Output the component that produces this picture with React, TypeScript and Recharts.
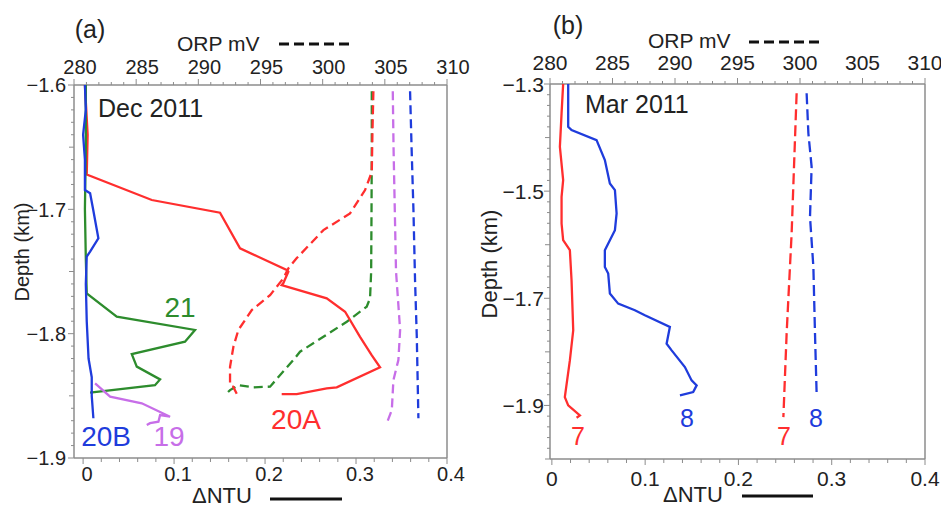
import React from 'react';
import { ScatterChart, Scatter, XAxis, YAxis, ReferenceLine, ReferenceDot } from 'recharts';

const FONT = '"Liberation Sans", Arial, sans-serif';
const INK = '#222';
const AXIS = '#8c8c8c';
const RED = '#ff2e2e';
const GREEN = '#2d8c2d';
const BLUE = '#1f3cdc';
const PURPLE = '#c76ee8';

// ---- Panel (a), Dec 2011 ----
// turbidity (bottom axis, ΔNTU)
const depth20A = [-1.6, -1.64, -1.672, -1.6925, -1.7027, -1.7314, -1.7488, -1.7502, -1.7595, -1.761, -1.7716, -1.7824, -1.8025, -1.8172, -1.8271, -1.8432, -1.844, -1.8486, -1.8486];
const ntu20A = [0.002, 0.005, 0.004, 0.0755, 0.1505, 0.1725, 0.2238, 0.2256, 0.22, 0.2183, 0.2678, 0.288, 0.3044, 0.3172, 0.3264, 0.2788, 0.2678, 0.2348, 0.2183];
const depth21 = [-1.6, -1.65, -1.7, -1.74, -1.7676, -1.7863, -1.797, -1.8064, -1.8164, -1.8265, -1.8368, -1.8414, -1.8475];
const ntu21 = [0.003, 0.003, 0.002, 0.003, 0.004, 0.037, 0.123, 0.112, 0.0535, 0.059, 0.0846, 0.079, 0.0077];
const depth20B = [-1.6, -1.62, -1.64, -1.66, -1.6845, -1.687, -1.7, -1.7233, -1.734, -1.738, -1.76, -1.79, -1.82, -1.835, -1.85, -1.868];
const ntu20B = [0.002, 0.003, 0.0, 0.002, 0.002, 0.0077, 0.011, 0.0168, 0.0077, 0.004, 0.003, 0.004, 0.006, 0.0095, 0.0095, 0.0113];
const depth19 = [-1.84, -1.8507, -1.856, -1.8668, -1.8655, -1.8708, -1.872, -1.8735];
const ntu19 = [0.0132, 0.0297, 0.0645, 0.0956, 0.0846, 0.0828, 0.0736, 0.07];
// redox potential (top axis, mV)
const depthOrp20A = [-1.605, -1.64, -1.67, -1.6845, -1.7033, -1.7167, -1.7394, -1.7475, -1.7555, -1.769, -1.781, -1.797, -1.8105, -1.8266, -1.8414, -1.8426, -1.8486];
const orp20A = [304.08, 304.0, 303.95, 303.41, 302.2, 300.06, 297.9, 297.24, 296.84, 295.77, 294.3, 293.22, 292.82, 292.55, 292.55, 292.8, 293.1];
const depthOrp21 = [-1.605, -1.65, -1.7, -1.75, -1.7716, -1.7783, -1.7904, -1.8025, -1.8145, -1.8212, -1.8426, -1.8432, -1.8414, -1.8454, -1.8475];
const orp21 = [303.95, 303.95, 303.93, 303.9, 303.81, 303.54, 301.94, 300.06, 298.18, 297.64, 295.77, 294.43, 293.22, 292.55, 292.33];
const depthOrp19 = [-1.605, -1.65, -1.7, -1.75, -1.797, -1.8212, -1.8373, -1.8615, -1.8722];
const orp19 = [305.64, 305.7, 305.8, 305.9, 306.23, 306.09, 305.69, 305.56, 305.15];
const depthOrp20B = [-1.605, -1.65, -1.7, -1.757, -1.8025, -1.868];
const orp20B = [307.03, 307.15, 307.3, 307.43, 307.57, 307.7];

// ---- Panel (b), Mar 2011 ----
const depth7 = [-1.3, -1.3548, -1.4172, -1.4794, -1.5106, -1.5604, -1.5916, -1.6103, -1.6664, -1.7598, -1.8159, -1.8845, -1.9, -1.9187, -1.923];
const ntu7 = [0.0121, 0.0104, 0.0086, 0.0121, 0.0104, 0.0104, 0.0121, 0.0193, 0.0211, 0.0229, 0.0193, 0.0139, 0.0175, 0.03, 0.0265];
const depth8 = [-1.3, -1.3798, -1.386, -1.4047, -1.442, -1.4857, -1.4981, -1.5417, -1.5729, -1.6103, -1.6415, -1.6538, -1.6912, -1.71, -1.7224, -1.7318, -1.7536, -1.7847, -1.7972, -1.8284, -1.8533, -1.8626, -1.8751, -1.8813];
const ntu8 = [0.0175, 0.0175, 0.0211, 0.0479, 0.0568, 0.0622, 0.0676, 0.0694, 0.0676, 0.0568, 0.0568, 0.0604, 0.0622, 0.0711, 0.089, 0.0997, 0.1265, 0.123, 0.1284, 0.1426, 0.1498, 0.1552, 0.1515, 0.1373];
const depthOrp7 = [-1.3174, -1.579, -1.766, -1.9219];
const orp7 = [299.73, 299.33, 298.93, 298.67];
const depthOrp8 = [-1.3174, -1.392, -1.4545, -1.548, -1.6415, -1.766, -1.878];
const orp8 = [300.53, 300.67, 300.93, 300.8, 301.07, 301.2, 301.33];

// tick label values
const ntuMajor = [0, 0.1, 0.2, 0.3, 0.4];
const orpMajor = [280, 285, 290, 295, 300, 305, 310];
const depthMajorA = [-1.9, -1.8, -1.7, -1.6];
const depthMajorB = [-1.9, -1.7, -1.5, -1.3];

// curve labels [text, ntu, depth, colour]
const labelsA: [string, number, number, string][] = [
  ['21', 0.1066, -1.7786, GREEN],
  ['20A', 0.234, -1.8687, RED],
  ['20B', 0.0253, -1.8824, BLUE],
  ['19', 0.0945, -1.8824, PURPLE],
];
const labelsB: [string, number, number, string][] = [
  ['7', 0.0279, -1.958, RED],
  ['8', 0.1448, -1.9243, BLUE],
  ['7', 0.2488, -1.958, RED],
  ['8', 0.2831, -1.9243, BLUE],
];

const zip = (ys: number[], xs: number[]) => xs.map((x, i) => ({ x, y: ys[i] }));
const steps = (from: number, to: number, step: number) => {
  const n = Math.round((to - from) / step);
  return Array.from({ length: n + 1 }, (_, i) => +(from + i * step).toFixed(3));
};
const has = (list: number[], v: number) => list.some((m) => Math.abs(m - v) < 1e-6);
const noShape = () => <g />;

const leftTick = (major: number[], mid: number[], fs: number, gap: number) => (p: any) => {
  const v = p.payload.value;
  const big = has(major, v);
  const len = big ? 6 : has(mid, v) ? 5 : 3;
  return (
    <g>
      <line x1={p.x} x2={p.x - len} y1={p.y} y2={p.y} stroke={AXIS} />
      {big && (
        <text x={p.x - gap} y={p.y} dy="0.36em" textAnchor="end" fontSize={fs} fill={INK} fontFamily={FONT}>
          {'\u2212' + Math.abs(v).toFixed(1)}
        </text>
      )}
    </g>
  );
};

const bottomTick = (fs: number, off: number, dx: number) => (p: any) => {
  const v = p.payload.value;
  const big = has(ntuMajor, v);
  return (
    <g>
      <line x1={p.x} x2={p.x} y1={p.y} y2={p.y + (big ? 6 : 4)} stroke={AXIS} />
      {big && (
        <text x={p.x + dx} y={p.y + off} textAnchor="middle" fontSize={fs} fill={INK} fontFamily={FONT}>
          {v === 0 ? '0' : v.toFixed(1)}
        </text>
      )}
    </g>
  );
};

const topTick = (fs: number, off: number, dx: number) => (p: any) => {
  const v = p.payload.value;
  const big = has(orpMajor, v);
  return (
    <g>
      <line x1={p.x} x2={p.x} y1={p.y} y2={p.y - (big ? 6 : 3)} stroke={AXIS} />
      {big && (
        <text x={p.x + dx} y={p.y - off} textAnchor="middle" fontSize={fs} fill={INK} fontFamily={FONT}>
          {v}
        </text>
      )}
    </g>
  );
};

type Series = { data: { x: number; y: number }[]; color: string; axis: 'ntu' | 'orp' };

const Profile = (props: {
  series: Series[];
  labels: [string, number, number, string][];
  depthDomain: [number, number];
  depthTicks: number[];
  leftTickFn: (p: any) => React.ReactElement;
  ntuMin: number;
  width: number;
  yWidth: number;
  top: number;
  bottom: number;
  right: number;
  fs: number;
  bottomOff: number;
  topOff: number;
  dxTop: number;
  dxBottom: number;
  labelSize: number;
  dash: string;
}) => (
  <ScatterChart width={props.width} height={508} margin={{ top: 0, right: props.right, bottom: 0, left: 0 }}>
    <XAxis
      xAxisId="ntu"
      orientation="bottom"
      type="number"
      dataKey="x"
      domain={[props.ntuMin, 0.4]}
      allowDataOverflow
      ticks={steps(0, 0.4, 0.02)}
      interval={0}
      height={props.bottom}
      tickSize={0}
      tickMargin={0}
      tickLine={false}
      tick={bottomTick(props.fs, props.bottomOff, props.dxBottom)}
      axisLine={{ stroke: AXIS, strokeWidth: 1.5 }}
    />
    <XAxis
      xAxisId="orp"
      orientation="top"
      type="number"
      dataKey="x"
      domain={[280, 310]}
      allowDataOverflow
      ticks={steps(280, 310, 1)}
      interval={0}
      height={props.top}
      tickSize={0}
      tickMargin={0}
      tickLine={false}
      tick={topTick(props.fs, props.topOff, props.dxTop)}
      axisLine={{ stroke: AXIS, strokeWidth: 1.5 }}
    />
    <YAxis
      type="number"
      dataKey="y"
      domain={props.depthDomain}
      allowDataOverflow
      ticks={props.depthTicks}
      interval={0}
      width={props.yWidth}
      tickSize={0}
      tickMargin={0}
      tickLine={false}
      tick={props.leftTickFn}
      axisLine={{ stroke: AXIS, strokeWidth: 1.5 }}
    />
    <ReferenceLine xAxisId="ntu" x={0.4} stroke={AXIS} strokeWidth={1.5} />
    {props.series.map((s, i) => (
      <Scatter
        key={i}
        xAxisId={s.axis}
        data={s.data}
        fill={s.color}
        shape={noShape}
        line={{
          stroke: s.color,
          strokeWidth: 2.3,
          strokeDasharray: s.axis === 'orp' ? props.dash : undefined,
        }}
        lineType="joint"
        isAnimationActive={false}
      />
    ))}
    {props.labels.map(([t, x, y, c], i) => (
      <ReferenceDot
        key={'l' + i}
        xAxisId="ntu"
        x={x}
        y={y}
        r={0}
        stroke="none"
        fill="none"
        label={{ value: t, position: 'center', fill: c, fontSize: props.labelSize, fontFamily: FONT }}
      />
    ))}
  </ScatterChart>
);

const seriesA: Series[] = [
  { data: zip(depthOrp20B, orp20B), color: BLUE, axis: 'orp' },
  { data: zip(depthOrp19, orp19), color: PURPLE, axis: 'orp' },
  { data: zip(depthOrp21, orp21), color: GREEN, axis: 'orp' },
  { data: zip(depthOrp20A, orp20A), color: RED, axis: 'orp' },
  { data: zip(depth20A, ntu20A), color: RED, axis: 'ntu' },
  { data: zip(depth21, ntu21), color: GREEN, axis: 'ntu' },
  { data: zip(depth20B, ntu20B), color: BLUE, axis: 'ntu' },
  { data: zip(depth19, ntu19), color: PURPLE, axis: 'ntu' },
];

const seriesB: Series[] = [
  { data: zip(depthOrp7, orp7), color: RED, axis: 'orp' },
  { data: zip(depthOrp8, orp8), color: BLUE, axis: 'orp' },
  { data: zip(depth7, ntu7), color: RED, axis: 'ntu' },
  { data: zip(depth8, ntu8), color: BLUE, axis: 'ntu' },
];

const App = () => (
  <div style={{ position: 'absolute', left: 0, top: 0, width: 941, height: 508, background: '#fff', fontFamily: FONT }}>
    <div style={{ position: 'absolute', left: 0, top: 0 }}>
      <Profile
        series={seriesA}
        labels={labelsA}
        depthDomain={[-1.9, -1.6]}
        depthTicks={steps(-1.9, -1.6, 0.01)}
        leftTickFn={leftTick(depthMajorA, [-1.65, -1.75, -1.85], 20, 8)}
        ntuMin={-0.01}
        width={470}
        yWidth={74}
        top={85}
        bottom={50}
        right={23}
        fs={20}
        bottomOff={23}
        topOff={11}
        dxTop={6}
        dxBottom={4}
        labelSize={28}
        dash="9 5"
      />
    </div>
    <div style={{ position: 'absolute', left: 480, top: 0 }}>
      <Profile
        series={seriesB}
        labels={labelsB}
        depthDomain={[-2.0, -1.3]}
        depthTicks={steps(-2.0, -1.3, 0.02)}
        leftTickFn={leftTick(depthMajorB, [-1.4, -1.6, -1.8, -2.0], 21, 6)}
        ntuMin={-0.002}
        width={461}
        yWidth={70}
        top={84}
        bottom={49}
        right={16}
        fs={21}
        bottomOff={27}
        topOff={14}
        dxTop={0}
        dxBottom={0}
        labelSize={25}
        dash="11 5"
      />
    </div>
    <svg width={941} height={508} style={{ position: 'absolute', left: 0, top: 0, pointerEvents: 'none' }} fontFamily={FONT}>
      <text x={90} y={38} fontSize={25} textAnchor="middle" fill={INK}>(a)</text>
      <text x={568} y={34} fontSize={25} textAnchor="middle" fill={INK}>(b)</text>
      <text x={177} y={51} fontSize={21} fill={INK}>ORP mV</text>
      <line x1={279} x2={350} y1={44} y2={44} stroke="#111" strokeWidth={3} strokeDasharray="10 5" />
      <text x={648} y={48} fontSize={21} fill={INK}>ORP mV</text>
      <line x1={749} x2={822} y1={42} y2={42} stroke="#111" strokeWidth={3} strokeDasharray="10 5" />
      <text x={192} y={503} fontSize={22} fill={INK}>ΔNTU</text>
      <line x1={270} x2={342} y1={499} y2={499} stroke="#111" strokeWidth={3} />
      <text x={663} y={502} fontSize={22} fill={INK}>ΔNTU</text>
      <line x1={742} x2={813} y1={496} y2={496} stroke="#111" strokeWidth={3} />
      <text x={98} y={117} fontSize={25} fill={INK}>Dec 2011</text>
      <text x={585} y={113} fontSize={25} fill={INK}>Mar 2011</text>
      <text x={22} y={252} fontSize={20} textAnchor="middle" dominantBaseline="central" fill={INK} transform="rotate(-90 22 252)">Depth (km)</text>
      <text x={489} y={264} fontSize={22} textAnchor="middle" dominantBaseline="central" fill={INK} transform="rotate(-90 489 264)">Depth (km)</text>
    </svg>
  </div>
);

export default App;
